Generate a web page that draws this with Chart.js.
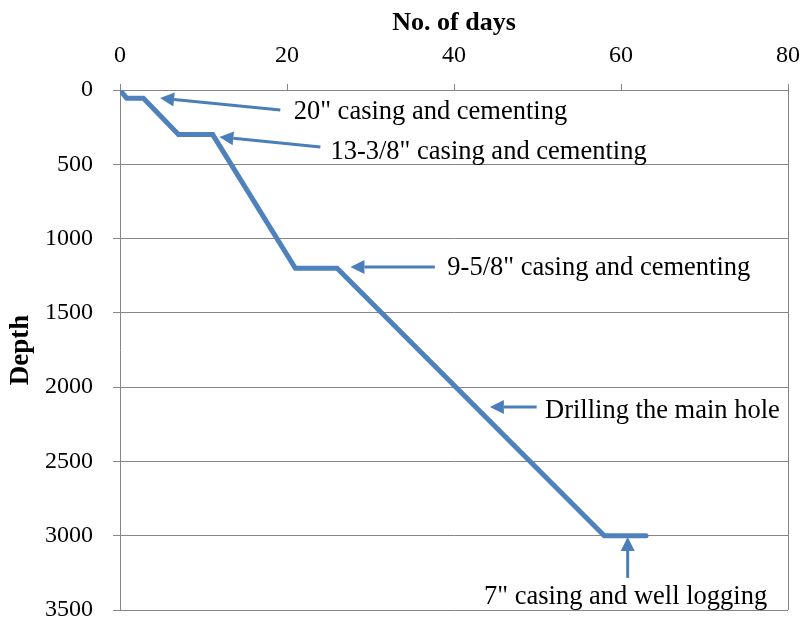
<!DOCTYPE html>
<html>
<head>
<meta charset="utf-8">
<script src="https://cdn.jsdelivr.net/npm/chart.js@4.4.1/dist/chart.umd.min.js"></script>
<style>
    html, body { margin: 0; padding: 0; background: #fff; }
    #wrap { width: 810px; height: 617px; }
</style>
</head>
<body>
<div id="wrap"><canvas id="depthChart"></canvas></div>
<script>
// drilling progress: days vs depth
const days   = [0, 0.8, 2.8, 7, 11.1, 21, 26, 58, 63];
const depths = [0, 55, 55, 300, 300, 1200, 1200, 3000, 3000];

const xTicks = [0, 20, 40, 60, 80];
const yTicks = [0, 500, 1000, 1500, 2000, 2500, 3000, 3500];

// callouts (data coordinates): text anchor, arrow tail, arrow head
const noteTexts  = ['20" casing and cementing', '13-3/8" casing and cementing',
                    '9-5/8" casing and cementing', 'Drilling the main hole',
                    '7" casing and well logging'];
const noteDay    = [20.8, 25.2, 39.2, 50.9, 43.6];
const noteDepth  = [148, 417, 1198, 2160, 3412];
const tailDay    = [19.2, 24.0, 37.7, 49.9, 60.8];
const tailDepth  = [135, 384, 1191, 2133, 3284];
const headDay    = [4.8, 11.9, 27.6, 44.3, 60.8];
const headDepth  = [54, 316, 1191, 2133, 3008];

const FONT = '"Liberation Serif", "Times New Roman", serif';
const ARROW = '#4a7ebb';

const points = days.map((d, i) => ({ x: d, y: depths[i] }));

const calloutPlugin = {
    id: 'callouts',
    afterDatasetsDraw(chart) {
        const { ctx, scales: { x, y }, chartArea } = chart;
        ctx.save();

        // right border of plot box
        ctx.strokeStyle = '#868686';
        ctx.lineWidth = 1;
        ctx.beginPath();
        ctx.moveTo(Math.round(chartArea.right) + 0.5, chartArea.top);
        ctx.lineTo(Math.round(chartArea.right) + 0.5, chartArea.bottom);
        ctx.stroke();

        noteTexts.forEach((txt, i) => {
            const tx = x.getPixelForValue(tailDay[i]);
            const ty = y.getPixelForValue(tailDepth[i]);
            const hx = x.getPixelForValue(headDay[i]);
            const hy = y.getPixelForValue(headDepth[i]);
            const ang = Math.atan2(hy - ty, hx - tx);
            const len = 14, half = 7;
            const bx = hx - len * Math.cos(ang);
            const by = hy - len * Math.sin(ang);

            ctx.strokeStyle = ARROW;
            ctx.fillStyle = ARROW;
            ctx.lineWidth = 3;
            ctx.beginPath();
            ctx.moveTo(tx, ty);
            ctx.lineTo(bx, by);
            ctx.stroke();

            ctx.beginPath();
            ctx.moveTo(hx, hy);
            ctx.lineTo(bx + half * Math.sin(ang), by - half * Math.cos(ang));
            ctx.lineTo(bx - half * Math.sin(ang), by + half * Math.cos(ang));
            ctx.closePath();
            ctx.fill();

            ctx.fillStyle = '#000';
            ctx.font = '26.5px ' + FONT;
            ctx.textAlign = 'left';
            ctx.textBaseline = 'middle';
            ctx.fillText(txt, x.getPixelForValue(noteDay[i]), y.getPixelForValue(noteDepth[i]));
        });

        ctx.restore();
    }
};

new Chart(document.getElementById('depthChart'), {
    type: 'scatter',
    data: {
        datasets: [{
            label: 'Depth',
            data: points,
            showLine: true,
            borderColor: '#4f81bd',
            borderWidth: 5,
            borderCapStyle: 'round',
            borderJoinStyle: 'miter',
            pointRadius: 0,
            fill: false
        }]
    },
    options: {
        responsive: true,
        maintainAspectRatio: false,
        animation: false,
        layout: { padding: { left: 0, right: 22, top: 0, bottom: 7 } },
        plugins: {
            legend: { display: false },
            tooltip: { enabled: false }
        },
        scales: {
            x: {
                type: 'linear',
                position: 'top',
                min: 0,
                max: 80,
                afterBuildTicks: (s) => { s.ticks = xTicks.map(v => ({ value: v })); },
                afterFit: (s) => {
                    s.height = 90;
                    s.paddingLeft = 0;
                    s.paddingRight = 0;
                },
                grid: { drawOnChartArea: false, color: '#868686', tickLength: 6 },
                border: { color: '#868686' },
                ticks: {
                    color: '#000',
                    font: { family: FONT, size: 24 },
                    padding: 14,
                    maxRotation: 0
                },
                title: {
                    display: true,
                    text: 'No. of days',
                    color: '#000',
                    font: { family: FONT, size: 26, weight: 'bold' },
                    padding: { top: 8, bottom: 0 }
                }
            },
            y: {
                type: 'linear',
                reverse: true,
                min: 0,
                max: 3500,
                afterBuildTicks: (s) => { s.ticks = yTicks.map(v => ({ value: v })); },
                afterFit: (s) => {
                    s.width = 120;
                    s.paddingTop = 0;
                    s.paddingBottom = 0;
                },
                grid: { color: '#868686', tickLength: 7 },
                border: { color: '#868686' },
                ticks: {
                    color: '#000',
                    font: { family: FONT, size: 24 },
                    padding: 20,
                    callback: (v) => String(v)
                },
                title: {
                    display: true,
                    text: 'Depth',
                    color: '#000',
                    font: { family: FONT, size: 27, weight: 'bold' },
                    padding: { top: 5, bottom: 0 }
                }
            }
        }
    },
    plugins: [calloutPlugin]
});
</script>
</body>
</html>
